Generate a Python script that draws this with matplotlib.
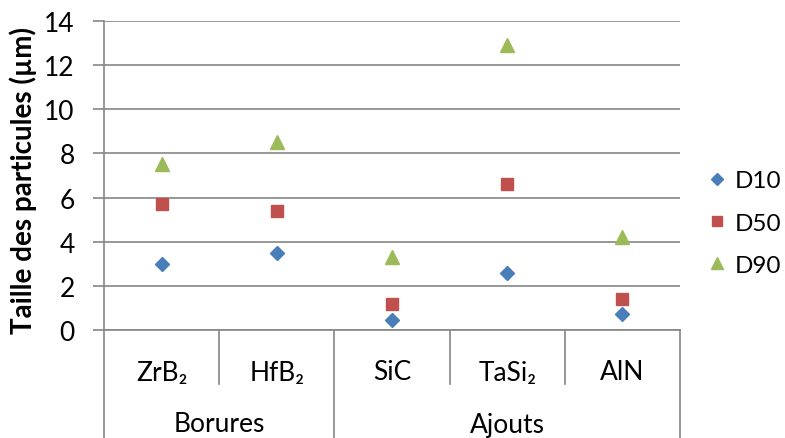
import matplotlib.pyplot as plt
import matplotlib.transforms as mtransforms

plt.rcParams['font.family'] = ['Lato', 'DejaVu Sans']

# Data
materials = ['ZrB₂', 'HfB₂', 'SiC', 'TaSi₂', 'AlN']
groups = ['Borures', 'Ajouts']
group_sizes = [2, 3]
d10 = [3.0, 3.5, 0.45, 2.6, 0.72]
d50 = [5.7, 5.4, 1.2, 6.6, 1.4]
d90 = [7.5, 8.5, 3.3, 12.9, 4.2]

grid_col = '#868686'
fs = 19

fig = plt.figure(figsize=(7.85, 4.39), dpi=100)
ax = fig.add_axes([104/785, 1 - 331/439, (680-104)/785, (331-22)/439])

x = [i + 0.5 for i in range(len(materials))]
ax.plot(x, d10, linestyle='none', marker='D', markersize=7.5, color='#4A7EBB', label='D10')
ax.plot(x, d50, linestyle='none', marker='s', markersize=9, color='#C0504D', label='D50')
ax.plot(x, d90, linestyle='none', marker='^', markersize=10, color='#9BBB59', label='D90')

ax.set_xlim(0, len(materials))
ax.set_ylim(0, 14)
ax.set_yticks(range(0, 15, 2))
ax.set_xticks([])
ax.grid(axis='y', color=grid_col, linewidth=1.2)
ax.set_axisbelow(True)
for s in ['top', 'right']:
    ax.spines[s].set_visible(False)
ax.spines['left'].set_color(grid_col)
ax.spines['bottom'].set_color(grid_col)
ax.spines['left'].set_linewidth(1.2)
ax.spines['bottom'].set_linewidth(1.2)
ax.tick_params(axis='y', length=8, color=grid_col, width=1.2, labelsize=fs, pad=13)
fig.text(23/785, 1 - 180/439, 'Taille des particules (µm)', rotation=90, ha='center', va='center',
         fontsize=20, fontweight='bold')

# category axis: two levels of labels and separators
trans = mtransforms.blended_transform_factory(ax.transData, ax.transAxes)
ax_h = 309
lvl1 = -54 / ax_h
lvl2 = -110 / ax_h
for i, name in enumerate(materials):
    ax.text(i + 0.5, -42 / ax_h, name, transform=trans, ha='center', va='center', fontsize=fs)

bounds = [0]
for n in group_sizes:
    bounds.append(bounds[-1] + n)
for i in range(len(materials) + 1):
    y_end = lvl2 if i in bounds else lvl1
    ax.plot([i, i], [0, y_end], transform=trans, color=grid_col, linewidth=1.2, clip_on=False)
for g, a, b in zip(groups, bounds[:-1], bounds[1:]):
    ax.text((a + b) / 2, -94 / ax_h, g, transform=trans, ha='center', va='center', fontsize=fs)

ax.legend(loc='center left', bbox_to_anchor=(707/785, 1 - 224/439), bbox_transform=fig.transFigure,
          frameon=False, fontsize=17.5, handlelength=0.8, handletextpad=0.36, labelspacing=0.88,
          borderpad=0, borderaxespad=0, markerscale=0.85)

fig.savefig('out.png', dpi=100)
